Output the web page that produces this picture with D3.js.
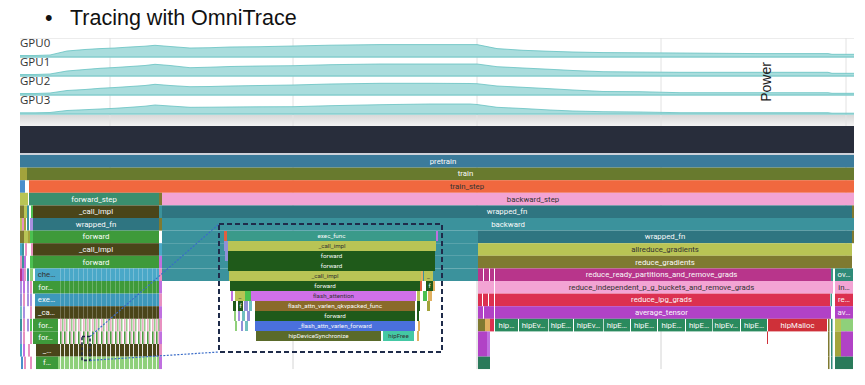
<!DOCTYPE html>
<html>
<head>
<meta charset="utf-8">
<script src="https://cdn.jsdelivr.net/npm/d3@7"></script>
<style>
  body { margin: 0; background: #fff; }
  svg { display: block; }
</style>
</head>
<body>
<script>
// power counter samples (time in ms, power in W)
var powerTimes = [0, 15, 30, 47, 65, 80, 95, 110, 125, 135, 150, 170, 190, 210, 240, 273, 310, 360, 410, 450, 457, 477, 503, 530, 553, 583, 620, 660, 740, 808, 812, 834];
var gpu0 = [60, 60, 80, 240, 300, 336, 360, 400, 432, 468, 420, 360, 372, 400, 412, 440, 472, 496, 496, 496, 496, 336, 268, 228, 200, 176, 168, 160, 136, 136, 108, 108];
var gpu1 = [60, 60, 80, 200, 260, 308, 340, 380, 420, 468, 420, 332, 352, 380, 400, 412, 452, 480, 480, 480, 480, 372, 320, 268, 220, 172, 160, 148, 148, 148, 108, 108];
var gpu2 = [60, 60, 80, 180, 220, 268, 300, 340, 380, 428, 380, 332, 340, 360, 380, 400, 440, 468, 468, 460, 452, 360, 308, 252, 200, 140, 132, 92, 92, 92, 68, 68];
var gpu3 = [48, 48, 60, 140, 172, 200, 228, 268, 312, 360, 320, 268, 272, 280, 288, 292, 332, 372, 400, 400, 380, 268, 220, 160, 120, 92, 80, 52, 52, 52, 32, 32];
var gpuNames = ["GPU0", "GPU1", "GPU2", "GPU3"];
var gridTimes = [90, 273, 457, 641, 826];

// colour keys used by the slices
var palette = {
  steel: "#3b7b9b", olive: "#687a2e", orange: "#f0683f", teal: "#3a8e6e",
  pink: "#f2a3d3", darkolive: "#4a4519", petrol: "#2f7581", aqua: "#3b929c",
  green: "#3e9a3a", lime: "#b9c455", moss: "#7f7a31", magenta: "#b8358b",
  rose: "#f3a4d4", red: "#dc3050", purple: "#b142c6", jade: "#2a8a5e",
  crimson: "#cf3039", sky: "#4aa8c8", skydeep: "#3d98ba", mustard: "#a3a33c",
  blue: "#4a8fcc", lavender: "#a890e0", rosy: "#e890c0", violet: "#c070e0",
  leaf: "#4cc050", lightgreen: "#8fd07a", seafoam: "#70c0c0", periwinkle: "#9090d8",
  ovteal: "#2e8a78", jadedark: "#2a7a5a", tan: "#e0b060", coral: "#e06040",
  forest: "#1f5a1a", brown: "#8a6a2a", cobalt: "#4a70dc", khaki: "#5a6a2a",
  mint: "#44c8a4", sea: "#3a9a8a", orchid: "#d070e8"
};

// main trace: [depth, start ms, end ms, colour key, label]
var slices = [
  [0, -40, 886, "steel", "pretrain"],
  [1, 0, 7, "mustard", ""], [1, 7, 884, "olive", "train"],
  [2, 0, 5, "blue", ""], [2, 9, 885, "orange", "train_step"],
  [3, 0, 8, "lime", ""], [3, 9, 139, "teal", "forward_step"], [3, 139, 142, "moss", ""], [3, 142, 884, "pink", "backward_step"],
  [4, 0, 4, "moss", ""], [4, 4, 7, "lime", ""], [4, 7, 9, "aqua", ""], [4, 11, 13, "leaf", ""], [4, 13, 139, "darkolive", "_call_impl"], [4, 139, 142, "aqua", ""], [4, 142, 832, "petrol", "wrapped_fn"], [4, 832, 834, "moss", ""],
  [5, 0, 2, "lime", ""], [5, 2, 4, "rosy", ""], [5, 4, 6, "mustard", ""], [5, 7, 9, "aqua", ""], [5, 10, 13, "lavender", ""], [5, 13, 139, "petrol", "wrapped_fn"], [5, 139, 142, "moss", ""], [5, 142, 834, "aqua", "backward"],
  [6, 0, 4, "moss", ""], [6, 4, 8, "lime", ""], [6, 8, 10, "mustard", ""], [6, 10, 13, "leaf", ""], [6, 13, 139, "green", "forward"], [6, 142, 458, "aqua", ""], [6, 458, 832, "petrol", "wrapped_fn"], [6, 832, 834, "moss", ""],
  [7, 0, 2, "sky", ""], [7, 2, 4, "aqua", ""], [7, 5, 7, "rosy", ""], [7, 11, 13, "rosy", ""], [7, 13, 139, "darkolive", "_call_impl"], [7, 139, 142, "sky", ""], [7, 142, 458, "aqua", ""], [7, 458, 832, "lime", "allreduce_gradients"],
  [8, 0, 2, "rosy", ""], [8, 2, 4, "aqua", ""], [8, 4, 6, "violet", ""], [8, 10, 13, "leaf", ""], [8, 13, 139, "green", "forward"], [8, 139, 142, "violet", ""], [8, 142, 458, "aqua", ""], [8, 458, 832, "moss", "reduce_gradients"],
  [9, 0, 2, "magenta", ""], [9, 2, 4, "violet", ""], [9, 4, 6, "rosy", ""], [9, 7, 9, "aqua", ""], [9, 10, 13, "lightgreen", ""], [9, 15, 38, "sky", "che…"], [9, 38, 139, "sky", ""], [9, 139, 142, "rosy", ""], [9, 142, 458, "aqua", ""],
  [9, 458, 463, "magenta", ""], [9, 464, 469, "magenta", ""], [9, 470, 474, "magenta", ""], [9, 475, 808, "magenta", "reduce_ready_partitions_and_remove_grads"], [9, 808, 811, "magenta", ""], [9, 811, 813, "sea", ""], [9, 815, 833, "ovteal", "ov…"],
  [10, 0, 2, "lavender", ""], [10, 3, 5, "violet", ""], [10, 7, 9, "lavender", ""], [10, 10, 12, "rosy", ""], [10, 13, 38, "green", "for…"], [10, 38, 139, "green", ""], [10, 139, 142, "violet", ""],
  [10, 458, 474, "rose", ""], [10, 475, 808, "rose", "reduce_independent_p_g_buckets_and_remove_grads"], [10, 808, 813, "rose", ""], [10, 815, 833, "rose", "in…"],
  [11, 0, 2, "periwinkle", ""], [11, 3, 5, "rosy", ""], [11, 7, 9, "lavender", ""], [11, 10, 12, "lavender", ""], [11, 15, 38, "skydeep", "exe…"], [11, 38, 139, "skydeep", ""], [11, 139, 142, "rosy", ""],
  [11, 458, 462, "red", ""], [11, 463, 468, "red", ""], [11, 469, 474, "red", ""], [11, 475, 808, "red", "reduce_ipg_grads"], [11, 808, 810, "red", ""], [11, 810.5, 812, "sea", ""], [11, 815, 833, "red", "re…"],
  [12, 0, 2, "seafoam", ""], [12, 3, 5, "lavender", ""], [12, 10, 12, "rosy", ""], [12, 15, 38, "darkolive", "_ca…"], [12, 38, 139, "darkolive", ""], [12, 139, 142, "violet", ""],
  [12, 458, 463, "purple", ""], [12, 464, 474, "purple", ""], [12, 475, 808, "purple", "average_tensor"], [12, 808, 811, "purple", ""], [12, 815, 833, "purple", "av…"],
  [13, 0, 2, "aqua", ""], [13, 3, 5, "rosy", ""], [13, 7, 9, "lavender", ""], [13, 10, 12, "leaf", ""], [13, 13, 38, "green", "for…"], [13, 139, 142, "rosy", ""],
  [13, 458, 465, "moss", ""], [13, 465, 470, "tan", ""], [13, 470, 474, "red", ""],
  [13, 475, 498, "jade", "hip…"], [13, 499, 528, "jade", "hipEv…"], [13, 528.7, 553, "jade", "hipE…"], [13, 554, 583, "jade", "hipEv…"],
  [13, 583.7, 610, "jade", "hipE…"], [13, 611, 637, "jade", "hipE…"], [13, 638, 665, "jade", "hipE…"], [13, 666, 692, "jade", "hipE…"],
  [13, 692.7, 720, "jade", "hipEv…"], [13, 721, 747, "jade", "hipE…"], [13, 748, 807, "crimson", "hipMalloc"],
  [13, 808, 809.5, "moss", ""], [13, 811, 812.5, "ovteal", ""], [13, 815, 821, "lime", ""], [13, 821, 833, "lightgreen", ""],
  [14, 0, 2, "periwinkle", ""], [14, 3, 5, "rosy", ""], [14, 10, 12, "rosy", ""], [14, 13, 38, "green", "for…"], [14, 139, 142, "violet", ""],
  [14, 458, 467, "purple", ""], [14, 467, 470, "violet", ""], [14, 747, 748, "crimson", ""],
  [14, 808, 809.5, "moss", ""], [14, 811, 812.5, "ovteal", ""], [14, 815, 821, "mustard", ""], [14, 821, 833, "purple", ""],
  [15, 0, 2, "sky", ""], [15, 3, 5, "violet", ""], [15, 8, 10, "rosy", ""], [15, 16, 38, "darkolive", "_…"], [15, 139, 142, "rosy", ""],
  [15, 458, 467, "purple", ""], [15, 467, 470, "violet", ""],
  [15, 808, 809.5, "moss", ""], [15, 811, 812.5, "ovteal", ""], [15, 815, 821, "mustard", ""], [15, 821, 833, "purple", ""],
  [16, 1, 3, "blue", ""], [16, 4, 6, "rosy", ""], [16, 10, 12, "rosy", ""], [16, 16, 38, "green", "f…"], [16, 139, 142, "violet", ""],
  [16, 458, 470, "jadedark", ""], [16, 808, 809.5, "moss", ""], [16, 811, 812.5, "ovteal", ""], [16, 815, 833, "jadedark", ""]
];

// start times (ms) of the repeated layer calls under forward
var layerCalls = [40, 44, 49, 53, 58, 63, 67, 72, 76, 81, 86, 90, 95, 99, 104, 109, 113, 118, 122, 127, 132, 136];

// zoomed window: time range (ms) and depth range
var zoomWindow = [62, 70];
var zoomDepths = [14.4, 16.3];

// zoomed trace: [depth, start us, end us, colour key, label]
var insetSlices = [
  [0, 5, 8, "coral", ""], [0, 8, 217, "sea", "exec_func"], [0, 217, 219, "violet", ""],
  [1, 5, 9, "periwinkle", ""], [1, 9, 217, "lime", "_call_impl"],
  [2, 6, 9, "periwinkle", ""], [2, 9, 216, "forest", "forward"],
  [3, 9, 216, "forest", "forward"],
  [4, 10, 202, "lime", "_call_impl"], [4, 202, 204, "tan", ""], [4, 205, 214, "lime", "_"],
  [5, 11, 201, "forest", "forward"], [5, 201, 203, "coral", ""], [5, 207, 214, "forest", "f"], [5, 214, 216, "tan", ""],
  [6, 12, 14, "violet", ""], [6, 16, 26, "lime", "_"], [6, 26, 32, "leaf", ""], [6, 32, 197, "orchid", "flash_attention"], [6, 198, 201, "lime", ""], [6, 204, 208, "leaf", ""], [6, 209, 213, "tan", ""],
  [7, 14, 17, "forest", ""], [7, 19, 24, "forest", "f"], [7, 25, 29, "periwinkle", ""], [7, 30, 33, "seafoam", ""], [7, 36, 196, "brown", "flash_attn_varlen_qkvpacked_func"], [7, 198, 201, "forest", ""], [7, 208, 211, "mustard", ""],
  [8, 15, 17, "lightgreen", ""], [8, 19, 21, "lavender", ""], [8, 23, 26, "seafoam", ""], [8, 28, 31, "periwinkle", ""], [8, 36, 196, "forest", "forward"], [8, 198, 200, "forest", ""],
  [9, 16, 18, "lightgreen", ""], [9, 22, 24, "periwinkle", ""], [9, 26, 29, "seafoam", ""], [9, 36, 196, "cobalt", "_flash_attn_varlen_forward"], [9, 199, 201, "tan", ""],
  [10, 37, 162, "khaki", "hipDeviceSynchronize"], [10, 164, 195, "mint", "hipFree"], [10, 198, 200, "tan", ""]
];

var width = 865, height = 385;

var svg = d3.select("body").append("svg")
    .attr("width", width)
    .attr("height", height);

function textColor(key) {
  return d3.lab(palette[key]).l > 60 ? "#333" : "#fafafa";
}

// title
svg.append("text").attr("x", 45).attr("y", 25)
    .style("font", "21.5px 'Liberation Sans', Arial, sans-serif").attr("fill", "#111").text("•");
svg.append("text").attr("x", 70).attr("y", 25)
    .style("font", "21.5px 'Liberation Sans', Arial, sans-serif").attr("fill", "#111").text("Tracing with OmniTrace");

// time scale shared by power tracks and the trace
var x = d3.scaleLinear().domain([0, 834]).range([20, 854]);

// ---- power tracks ----
var track = d3.scaleLinear().domain([0, 3]).range([57, 114]);
var pw = d3.scaleLinear().domain([0, 700]).range([0, 17.5]);
var gpuSeries = [gpu0, gpu1, gpu2, gpu3];

var defs = svg.append("defs");
var grad = defs.append("linearGradient").attr("id", "shade").attr("x1", 0).attr("y1", 0).attr("x2", 0).attr("y2", 1);
grad.append("stop").attr("offset", "0%").attr("stop-color", "#d8d8d8");
grad.append("stop").attr("offset", "100%").attr("stop-color", "#f3f3f3");

svg.append("line").attr("x1", x(0)).attr("x2", x(834)).attr("y1", 38.5).attr("y2", 38.5)
    .attr("stroke", "#ececec");
svg.append("rect").attr("x", x(0)).attr("y", 115).attr("width", x(834) - x(0)).attr("height", 11)
    .attr("fill", "url(#shade)");

svg.selectAll(".pgrid").data(gridTimes).join("line")
    .attr("class", "pgrid")
    .attr("x1", d => x(d)).attr("x2", d => x(d))
    .attr("y1", 38).attr("y2", 126)
    .attr("stroke", "#e2e2e2");

gpuSeries.forEach(function(vals, i) {
  var area = d3.area()
      .x((d, j) => x(powerTimes[j]))
      .y0(track(i))
      .y1(d => track(i) - pw(d));
  var top = d3.line()
      .x((d, j) => x(powerTimes[j]))
      .y(d => track(i) - pw(d));
  svg.append("path").datum(vals).attr("d", area).attr("fill", "#a9dddd");
  svg.append("path").datum(vals).attr("d", top).attr("fill", "none")
      .attr("stroke", "#66c2c2").attr("stroke-width", 0.8);
  svg.append("line").attr("x1", x(0)).attr("x2", x(834))
      .attr("y1", track(i)).attr("y2", track(i))
      .attr("stroke", "#84cccc").attr("stroke-width", 1.5);
  svg.append("text").attr("x", 20).attr("y", track(i) - 10)
      .style("font", "11.5px 'Open Sans', sans-serif").attr("fill", "#333")
      .text(gpuNames[i]);
});

svg.append("text")
    .attr("transform", "translate(771,82) rotate(-90)")
    .attr("text-anchor", "middle")
    .style("font", "14px 'Liberation Sans', Arial, sans-serif").attr("fill", "#222")
    .text("Power");

// ---- timeline header band ----
svg.append("rect").attr("x", x(0)).attr("y", 126).attr("width", x(834) - x(0)).attr("height", 27)
    .attr("fill", "#282d3b");
svg.append("rect").attr("x", x(0)).attr("y", 153).attr("width", x(834) - x(0)).attr("height", 2)
    .attr("fill", "#cdd2da");

// ---- main trace ----
var row = d3.scaleLinear().domain([0, 17]).range([155, 369.2]);
var rowH = row(1) - row(0);

defs.append("clipPath").attr("id", "clipMain")
  .append("rect").attr("x", x(0)).attr("y", row(0)).attr("width", x(834) - x(0)).attr("height", row(17) - row(0));

var main = svg.append("g").attr("clip-path", "url(#clipMain)");

main.selectAll(".fgrid").data(gridTimes).join("line")
    .attr("class", "fgrid")
    .attr("x1", d => x(d)).attr("x2", d => x(d))
    .attr("y1", row(0)).attr("y2", row(17))
    .attr("stroke", "#d4d4d4");

main.selectAll(".slice").data(slices).join("rect")
    .attr("class", "slice")
    .attr("x", d => x(d[1]))
    .attr("width", d => x(d[2]) - x(d[1]))
    .attr("y", d => row(d[0]))
    .attr("height", rowH)
    .attr("fill", d => palette[d[3]]);

// repeated layer calls: thin separators on rows 9-12, stripes on rows 13-16
main.append("rect").attr("x", x(38)).attr("width", x(139) - x(38))
    .attr("y", row(15)).attr("height", rowH).attr("fill", palette.darkolive);
main.append("rect").attr("x", x(38)).attr("width", x(139) - x(38))
    .attr("y", row(16)).attr("height", rowH).attr("fill", palette.lightgreen);

layerCalls.forEach(function(s) {
  main.append("rect").attr("x", x(s)).attr("width", 0.8)
      .attr("y", row(9)).attr("height", row(13) - row(9))
      .attr("fill", "#fff").attr("opacity", 0.3);
  main.append("rect").attr("x", x(s)).attr("width", x(s + 1.6) - x(s))
      .attr("y", row(13)).attr("height", rowH).attr("fill", "#eab0c4");
  main.append("rect").attr("x", x(s + 2.2)).attr("width", x(s + 3.4) - x(s + 2.2))
      .attr("y", row(13)).attr("height", rowH).attr("fill", "#7cc070");
  main.append("rect").attr("x", x(s)).attr("width", x(s + 1.6) - x(s))
      .attr("y", row(14)).attr("height", rowH).attr("fill", "#4e9a40");
  main.append("rect").attr("x", x(s + 2.2)).attr("width", x(s + 3.2) - x(s + 2.2))
      .attr("y", row(14)).attr("height", rowH).attr("fill", "#e8a8c0");
  main.append("rect").attr("x", x(s)).attr("width", 1)
      .attr("y", row(15)).attr("height", rowH * 2).attr("fill", "#fff").attr("opacity", 0.85);
});

main.selectAll(".lbl").data(slices.filter(d => d[4])).join("text")
    .attr("class", "lbl")
    .attr("x", d => (x(d[1]) + x(d[2])) / 2)
    .attr("y", d => row(d[0] + 0.5))
    .attr("text-anchor", "middle")
    .attr("dominant-baseline", "central")
    .style("font", "7.8px Roboto, sans-serif")
    .attr("fill", d => textColor(d[3]))
    .text(d => d[4]);

// ---- zoomed inset ----
var insetTop = 224, insetBottom = 352;
var xi = d3.scaleLinear().domain([0, 223]).range([219, 442]);
var ri = d3.scaleLinear().domain([0, 11]).range([231, 341]);
var riH = ri(1) - ri(0);

var inset = svg.append("g");
inset.selectAll("rect").data(insetSlices).join("rect")
    .attr("x", d => xi(d[1]))
    .attr("width", d => xi(d[2]) - xi(d[1]))
    .attr("y", d => ri(d[0]))
    .attr("height", riH)
    .attr("fill", d => palette[d[3]]);
inset.selectAll("text").data(insetSlices.filter(d => d[4])).join("text")
    .attr("x", d => (xi(d[1]) + xi(d[2])) / 2)
    .attr("y", d => ri(d[0] + 0.5))
    .attr("text-anchor", "middle")
    .attr("dominant-baseline", "central")
    .style("font", "6.2px Roboto, sans-serif")
    .attr("fill", d => textColor(d[3]))
    .text(d => d[4]);

svg.append("rect")
    .attr("x", xi(0)).attr("y", insetTop)
    .attr("width", xi(223) - xi(0)).attr("height", insetBottom - insetTop)
    .attr("fill", "none").attr("stroke", "#1f2b4a").attr("stroke-width", 2)
    .attr("stroke-dasharray", "5,3");

svg.append("rect")
    .attr("x", x(zoomWindow[0])).attr("y", row(zoomDepths[0]))
    .attr("width", x(zoomWindow[1]) - x(zoomWindow[0]))
    .attr("height", row(zoomDepths[1]) - row(zoomDepths[0]))
    .attr("fill", "none").attr("stroke", "#1f2b4a").attr("stroke-width", 1.6)
    .attr("stroke-dasharray", "3,2");

// connectors from the small window to the inset
[[zoomDepths[0], insetTop], [zoomDepths[1], insetBottom]].forEach(function(p) {
  svg.append("line")
      .attr("x1", x(zoomWindow[1])).attr("y1", row(p[0]))
      .attr("x2", xi(0)).attr("y2", p[1])
      .attr("stroke", "#3a6cc8").attr("stroke-width", 1.2)
      .attr("stroke-dasharray", "2,1.5");
});
</script>
</body>
</html>
